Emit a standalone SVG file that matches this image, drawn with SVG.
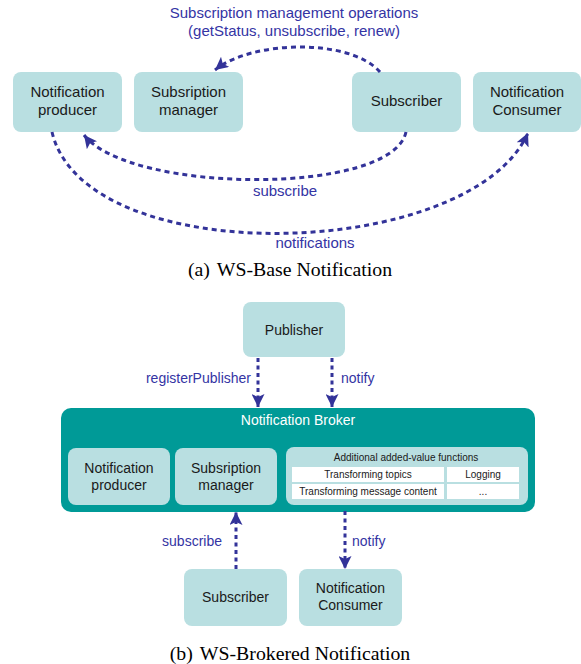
<svg xmlns="http://www.w3.org/2000/svg" width="581" height="664" viewBox="0 0 581 664">
  <defs>
    <marker id="arrow" markerUnits="userSpaceOnUse" markerWidth="14" markerHeight="13" refX="13" refY="6.5" orient="auto">
      <path d="M0,0 L13,6.5 L0,13 L3,6.5 z" fill="#333399"/>
    </marker>
  </defs>
  <style>
    .node { fill: #b9dfe1; }
    .broker { fill: #009a97; }
    .cell { fill: #ffffff; }
    .txt { font-family: "Liberation Sans", Arial, sans-serif; fill: #1a1a1a; text-anchor: middle; }
    .t15 { font-size: 15px; }
    .t14 { font-size: 14px; }
    .t10 { font-size: 10px; }
    .lbl { font-family: "Liberation Sans", Arial, sans-serif; fill: #3434a4; }
    .wire { fill: none; stroke: #333399; stroke-width: 3; stroke-dasharray: 5 4; marker-end: url(#arrow); }
    .wire2 { fill: none; stroke: #333399; stroke-width: 3; stroke-dasharray: 4 3.5; marker-end: url(#arrow); }
    .cap { font-family: "Liberation Serif", "Times New Roman", serif; font-size: 19.8px; fill: #000; text-anchor: middle; }
  </style>

  <!-- (a) base notification -->
  <g id="a-producer">
    <rect class="node" x="13" y="72" width="109" height="60" rx="8"/>
    <text class="txt t15" x="67.5" y="97">Notification</text>
    <text class="txt t15" x="67.5" y="115">producer</text>
  </g>
  <g id="a-manager">
    <rect class="node" x="134" y="72" width="109" height="60" rx="8"/>
    <text class="txt t15" x="188.5" y="97">Subsription</text>
    <text class="txt t15" x="188.5" y="115">manager</text>
  </g>
  <g id="a-subscriber">
    <rect class="node" x="352" y="72" width="109" height="60" rx="8"/>
    <text class="txt t15" x="406.5" y="106">Subscriber</text>
  </g>
  <g id="a-consumer">
    <rect class="node" x="473" y="72" width="108" height="60" rx="8"/>
    <text class="txt t15" x="527" y="97">Notification</text>
    <text class="txt t15" x="527" y="115">Consumer</text>
  </g>

  <g id="a-connectors">
    <path class="wire" d="M380,72 C350,38 252,40 215,70"/>
    <path class="wire" d="M406,132 C392,196 130,194 84,135"/>
    <path class="wire" d="M52,132 C85,272 470,262 528,133"/>
    <text class="lbl t15" x="294" y="18" text-anchor="middle">Subscription management operations</text>
    <text class="lbl t15" x="294" y="36" text-anchor="middle">(getStatus, unsubscribe, renew)</text>
    <text class="lbl t15" x="285" y="196" text-anchor="middle">subscribe</text>
    <text class="lbl t15" x="315" y="248" text-anchor="middle">notifications</text>
  </g>

  <text class="cap" x="290" y="276">(a)<tspan dx="7">WS-Base Notification</tspan></text>

  <!-- (b) brokered notification -->
  <g id="b-publisher">
    <rect class="node" x="243" y="302" width="102" height="55" rx="8"/>
    <text class="txt t14" x="294" y="335">Publisher</text>
  </g>

  <g id="b-broker">
    <rect class="broker" x="61" y="408" width="474" height="104" rx="10"/>
    <text class="txt t14" x="298" y="425" style="fill:#ffffff">Notification Broker</text>
  </g>
  <g id="b-producer">
    <rect class="node" x="68" y="448" width="102" height="57" rx="8"/>
    <text class="txt t14" x="119" y="473">Notification</text>
    <text class="txt t14" x="119" y="490">producer</text>
  </g>
  <g id="b-manager">
    <rect class="node" x="175" y="448" width="102" height="57" rx="8"/>
    <text class="txt t14" x="226" y="473">Subsription</text>
    <text class="txt t14" x="226" y="490">manager</text>
  </g>
  <g id="b-functions">
    <rect class="node" x="286" y="447" width="242" height="58" rx="8"/>
    <text class="txt t10" x="406" y="461">Additional added-value functions</text>
    <rect class="cell" x="292" y="467" width="152" height="15"/>
    <rect class="cell" x="447" y="467" width="72" height="15"/>
    <rect class="cell" x="292" y="484" width="152" height="15"/>
    <rect class="cell" x="447" y="484" width="72" height="15"/>
    <text class="txt t10" x="368" y="478">Transforming topics</text>
    <text class="txt t10" x="483" y="478">Logging</text>
    <text class="txt t10" x="368" y="495">Transforming message content</text>
    <text class="txt t10" x="483" y="495">...</text>
  </g>

  <g id="b-subscriber">
    <rect class="node" x="184" y="569" width="103" height="57" rx="8"/>
    <text class="txt t14" x="235.5" y="602">Subscriber</text>
  </g>
  <g id="b-consumer">
    <rect class="node" x="299" y="569" width="103" height="57" rx="8"/>
    <text class="txt t14" x="350.5" y="593">Notification</text>
    <text class="txt t14" x="350.5" y="610">Consumer</text>
  </g>

  <g id="b-connectors">
    <path class="wire2" d="M258,358 L258,407"/>
    <path class="wire2" d="M332,358 L332,407"/>
    <path class="wire2" d="M236,569 L236,512"/>
    <path class="wire2" d="M345,511 L345,569"/>
    <text class="lbl t14" x="251" y="383" text-anchor="end">registerPublisher</text>
    <text class="lbl t14" x="341" y="383">notify</text>
    <text class="lbl t14" x="222" y="546" text-anchor="end">subscribe</text>
    <text class="lbl t14" x="352" y="546">notify</text>
  </g>

  <text class="cap" x="290" y="660">(b)<tspan dx="7">WS-Brokered Notification</tspan></text>
</svg>
